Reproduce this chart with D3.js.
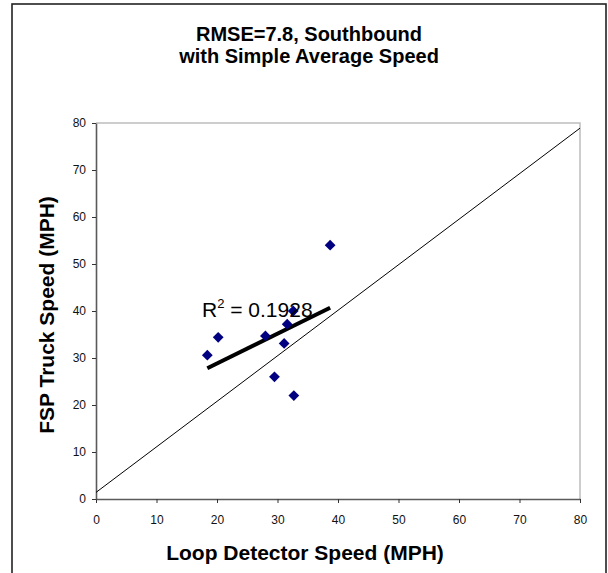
<!DOCTYPE html>
<html>
<head>
<meta charset="utf-8">
<script src="https://cdn.jsdelivr.net/npm/d3@7"></script>
<style>
  body { margin: 0; background: #fff; }
  text { font-family: Arial, "Liberation Sans", sans-serif; }
</style>
</head>
<body>
<script>
// loop detector speed vs. FSP truck speed (MPH)
var loopSpeed  = [18.4, 20.2, 28.0, 31.6, 31.1, 32.6, 29.5, 32.7, 38.7];
var truckSpeed = [30.6, 34.4, 34.7, 37.2, 33.1, 40.0, 26.0, 22.0, 54.0];
var tickValues = [0, 10, 20, 30, 40, 50, 60, 70, 80];
var refLineX = [0, 80];
var refLineY = [1.4, 78.9];
var titleLines = ["RMSE=7.8, Southbound", "with Simple Average Speed"];
var r2Label = "0.1928";

(function(){
    var svgWidth = 608, svgHeight = 573;
    var plotLeft = 96, plotTop = 123, plotW = 484, plotH = 376;

    var svg = d3.select("body").append("svg")
        .attr("width", svgWidth).attr("height", svgHeight);

    // outer frame
    svg.append("rect").attr("x", 12).attr("y", 4)
        .attr("width", 594).attr("height", 590)
        .attr("fill", "#fff").attr("stroke", "#222").attr("stroke-width", 1.6);

    var x = d3.scaleLinear().domain([0, 80]).range([plotLeft, plotLeft + plotW]);
    var y = d3.scaleLinear().domain([0, 80]).range([plotTop + plotH, plotTop]);

    // light plot border (top / right)
    svg.append("path")
        .attr("d", "M" + x(0) + "," + y(80) + "H" + x(80) + "V" + y(0))
        .attr("fill", "none").attr("stroke", "#bdbdbd").attr("stroke-width", 1.5);

    var xAxis = svg.append("g").attr("transform", "translate(0," + y(0) + ")")
        .call(d3.axisBottom(x).tickValues(tickValues).tickSize(4).tickSizeOuter(0));
    var yAxis = svg.append("g").attr("transform", "translate(" + x(0) + ",0)")
        .call(d3.axisLeft(y).tickValues(tickValues).tickSize(4).tickSizeOuter(0));

    [xAxis, yAxis].forEach(function (g) {
        g.select(".domain").attr("stroke", "#5a5a5a").attr("stroke-width", 1.6);
        g.selectAll(".tick line").attr("stroke", "#333");
        g.selectAll(".tick text").attr("fill", "#111")
            .style("font-family", "Arial, 'Liberation Sans', sans-serif")
            .style("font-size", "12px");
    });
    xAxis.selectAll(".tick text").attr("dy", null).attr("y", 25);
    yAxis.selectAll(".tick text").attr("x", -10);

    // reference line
    svg.append("line")
        .attr("x1", x(refLineX[0])).attr("y1", y(refLineY[0]))
        .attr("x2", x(refLineX[1])).attr("y2", y(refLineY[1]))
        .attr("stroke", "#000").attr("stroke-width", 1);

    // linear trendline from the points
    var pts = loopSpeed.map(function (v, i) { return [v, truckSpeed[i]]; });
    var mx = d3.mean(loopSpeed), my = d3.mean(truckSpeed);
    var sxy = d3.sum(pts, function (p) { return (p[0] - mx) * (p[1] - my); });
    var sxx = d3.sum(pts, function (p) { return (p[0] - mx) * (p[0] - mx); });
    var slope = sxy / sxx, icpt = my - slope * mx;
    var ext = d3.extent(loopSpeed);
    svg.append("line")
        .attr("x1", x(ext[0])).attr("y1", y(icpt + slope * ext[0]))
        .attr("x2", x(ext[1])).attr("y2", y(icpt + slope * ext[1]))
        .attr("stroke", "#000").attr("stroke-width", 4);

    // diamonds
    svg.selectAll("path.pt").data(pts).enter()
        .append("path").attr("class", "pt")
        .attr("d", d3.symbol(d3.symbolSquare).size(58))
        .attr("transform", function (d) {
            return "translate(" + x(d[0]) + "," + y(d[1]) + ") rotate(45)";
        })
        .attr("fill", "#000080");

    // R^2 label
    var r2 = svg.append("text").attr("x", 202).attr("y", 317)
        .attr("font-size", 21).attr("fill", "#000");
    r2.append("tspan").text("R");
    r2.append("tspan").attr("dy", -9).attr("font-size", 13).text("2");
    r2.append("tspan").attr("dy", 9).text(" = " + r2Label);

    // title
    svg.selectAll("text.title").data(titleLines).enter()
        .append("text").attr("class", "title")
        .attr("x", 309).attr("y", function (d, i) { return 41 + i * 22; })
        .attr("text-anchor", "middle").attr("font-size", 20).attr("font-weight", "bold")
        .text(function (d) { return d; });

    // axis titles
    svg.append("text").attr("x", 305).attr("y", 560)
        .attr("text-anchor", "middle").attr("font-size", 21).attr("font-weight", "bold")
        .text("Loop Detector Speed (MPH)");
    svg.append("text")
        .attr("transform", "translate(54," + 315 + ") rotate(-90)")
        .attr("text-anchor", "middle").attr("font-size", 21).attr("font-weight", "bold")
        .text("FSP Truck Speed (MPH)");
})();
</script>
</body>
</html>
